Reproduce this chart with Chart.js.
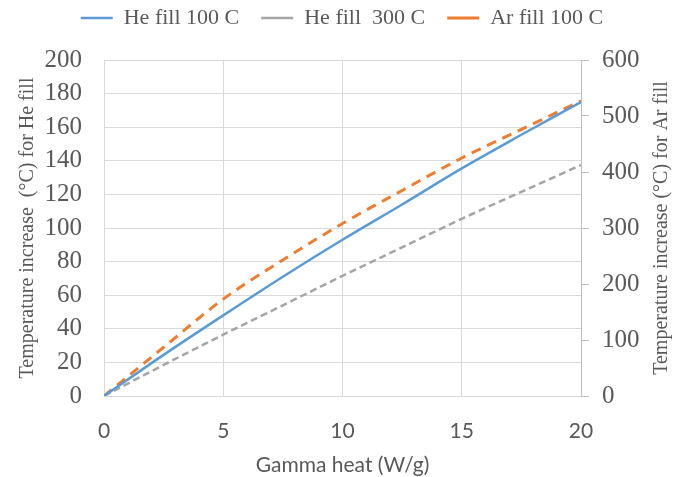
<!DOCTYPE html>
<html>
<head>
<meta charset="utf-8">
<script src="https://cdn.jsdelivr.net/npm/chart.js@4/dist/chart.umd.min.js"></script>
<style>
  html, body { margin: 0; padding: 0; background: #fff; }
</style>
</head>
<body>
<canvas id="chart" width="684" height="477"></canvas>
<script>
// values
const gammaHeat = [0, 2.5, 5, 7.5, 10, 12.5, 15, 17.5, 20]
const heFill100 = [0, 24.5, 48, 71, 93, 114, 135.5, 155.5, 175]
const heFill300 = [0, 18.5, 36.5, 54, 71.5, 88.5, 105.5, 121.5, 137.5]
const arFill100 = [0, 87, 173, 243, 308, 367, 425, 476, 527]

const seriesNames = ['He fill 100 C', 'He fill  300 C', 'Ar fill 100 C']
const xRange = [0, 20, 5]
const leftRange = [0, 200, 20]
const rightRange = [0, 600, 100]

const xTitle = 'Gamma heat (W/g)'
const leftTitle = 'Temperature increase  (\u00B0C) for He fill'
const rightTitle = 'Temperature increase (\u00B0C) for Ar fill'

const grey = '#595959'
const serif = '"Liberation Serif", "Times New Roman", serif'
const sans = 'Lato, "Open Sans", sans-serif'

function toPoints(ys) {
    return ys.map((y, i) => ({ x: gammaHeat[i], y: y }))
}

// Chart.js draws right-hand titles top-to-bottom, the picture has it bottom-to-top
const rightTitlePlugin = {
    id: 'rightTitle',
    afterDraw(chart) {
        const ctx = chart.ctx
        const area = chart.chartArea
        ctx.save()
        ctx.translate(chart.scales.y1.right - 22, (area.top + area.bottom) / 2)
        ctx.rotate(-Math.PI / 2)
        ctx.font = '20px ' + serif
        ctx.fillStyle = grey
        ctx.textAlign = 'center'
        ctx.textBaseline = 'middle'
        ctx.fillText(rightTitle, 0, 0)
        ctx.restore()
    }
}

new Chart(document.getElementById('chart'), {
    type: 'line',
    data: {
        datasets: [
            {
                label: seriesNames[0],
                data: toPoints(heFill100),
                yAxisID: 'y',
                borderColor: '#5b9bd5',
                backgroundColor: '#5b9bd5',
                borderWidth: 2.5
            },
            {
                label: seriesNames[1],
                data: toPoints(heFill300),
                yAxisID: 'y',
                borderColor: '#a5a5a5',
                backgroundColor: '#a5a5a5',
                borderWidth: 2.5,
                borderDash: [7, 4]
            },
            {
                label: seriesNames[2],
                data: toPoints(arFill100),
                yAxisID: 'y1',
                borderColor: '#ed7d31',
                backgroundColor: '#ed7d31',
                borderWidth: 3,
                borderDash: [10, 7]
            }
        ]
    },
    options: {
        responsive: false,
        animation: false,
        devicePixelRatio: 1,
        layout: { padding: { top: -15, left: 0, right: 0, bottom: 0 } },
        elements: {
            point: { radius: 0, pointStyle: 'line' },
            line: { cubicInterpolationMode: 'monotone', fill: false }
        },
        plugins: {
            tooltip: { enabled: false },
            legend: {
                position: 'top',
                weight: 3000,
                labels: {
                    usePointStyle: true,
                    pointStyle: 'line',
                    pointStyleWidth: 32,
                    padding: 22,
                    color: grey,
                    font: { family: serif, size: 22 }
                }
            },
            // empty spacer between legend and plot
            subtitle: {
                display: true,
                text: '',
                padding: 0,
                font: { size: 21, lineHeight: 1 }
            }
        },
        scales: {
            x: {
                type: 'linear',
                min: xRange[0],
                max: xRange[1],
                afterFit(s) { s.height = 81 },
                ticks: {
                    stepSize: xRange[2],
                    padding: 23,
                    color: grey,
                    font: { family: sans, size: 21 }
                },
                grid: { color: '#d9d9d9', drawTicks: false },
                border: { color: '#d9d9d9' },
                title: {
                    display: true,
                    text: xTitle,
                    color: grey,
                    padding: { top: 0, bottom: 0 },
                    font: { family: sans, size: 21, lineHeight: 1.1 }
                }
            },
            y: {
                position: 'left',
                min: leftRange[0],
                max: leftRange[1],
                afterFit(s) { s.width = 104 },
                ticks: {
                    stepSize: leftRange[2],
                    padding: 22,
                    color: grey,
                    font: { family: serif, size: 25 }
                },
                grid: { color: '#d9d9d9', drawTicks: false },
                border: { color: '#d9d9d9' },
                title: {
                    display: true,
                    text: leftTitle,
                    color: grey,
                    padding: { top: 16, bottom: 0 },
                    font: { family: serif, size: 20 }
                }
            },
            y1: {
                position: 'right',
                min: rightRange[0],
                max: rightRange[1],
                afterFit(s) { s.width = 103 },
                ticks: {
                    stepSize: rightRange[2],
                    padding: 13,
                    color: grey,
                    font: { family: serif, size: 25 }
                },
                grid: { drawOnChartArea: false, drawTicks: true, tickLength: 8, color: '#bfbfbf' },
                border: { color: '#bfbfbf' }
            }
        }
    },
    plugins: [rightTitlePlugin]
})
</script>
</body>
</html>
